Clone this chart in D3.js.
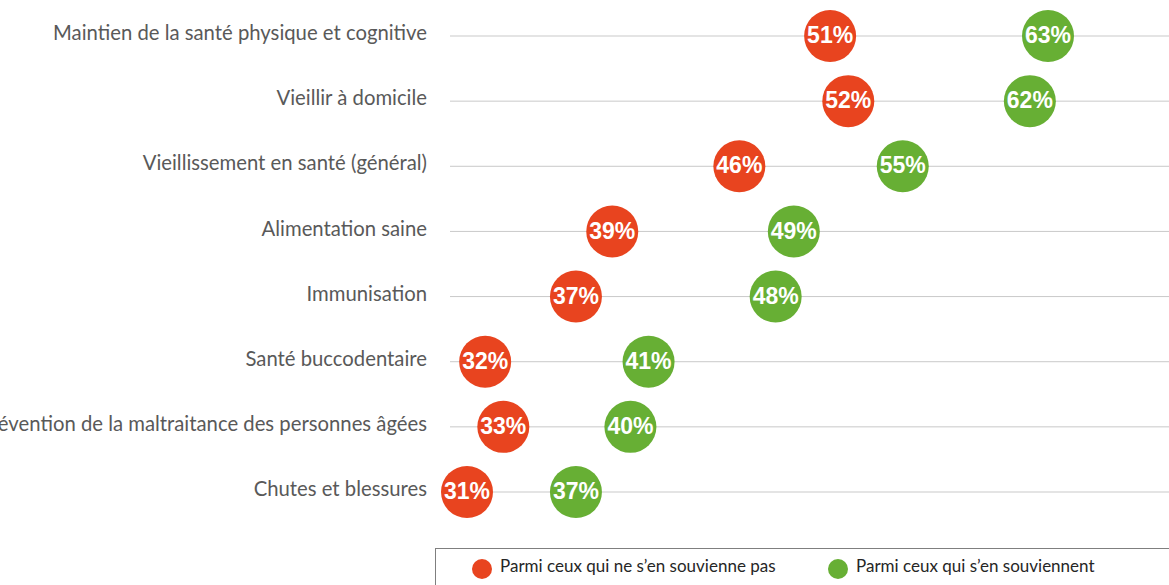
<!DOCTYPE html>
<html><head><meta charset="utf-8">
<script src="https://cdn.jsdelivr.net/npm/d3@7"></script>
<style>body{margin:0;background:#fff;}svg{display:block;}</style>
</head><body>
<svg id="c" width="1169" height="585"></svg>
<script>
const categories = [
  "Maintien de la santé physique et cognitive",
  "Vieillir à domicile",
  "Vieillissement en santé (général)",
  "Alimentation saine",
  "Immunisation",
  "Santé buccodentaire",
  "Prévention de la maltraitance des personnes âgées",
  "Chutes et blessures"
];
const notRemember = [51, 52, 46, 39, 37, 32, 33, 31];
const remember = [63, 62, 55, 49, 48, 41, 40, 37];
const seriesNames = ["Parmi ceux qui ne s’en souvienne pas", "Parmi ceux qui s’en souviennent"];
const colors = ["#E8441F", "#67AF34"];

const svg = d3.select("#c");
const x = d3.scaleLinear().domain([31, 63]).range([467, 1048]);
const y = d3.scalePoint().domain(categories).range([36, 492]);

// gridlines
svg.append("g").selectAll("line").data(categories).join("line")
  .attr("x1", 450).attr("x2", 1169)
  .attr("y1", d => y(d)).attr("y2", d => y(d))
  .attr("stroke", "#c9c9c9").attr("stroke-width", 1);

// labels
svg.append("g").selectAll("text").data(categories).join("text")
  .attr("x", 427).attr("y", d => y(d) - 1)
  .attr("text-anchor", "end").attr("dominant-baseline", "middle")
  .attr("font-family", "Lato, 'Open Sans', sans-serif").attr("font-size", 20.3)
  .attr("fill", "#595959").text(d => d);

function drawSeries(vals, color) {
  const g = svg.append("g");
  const pts = categories.map((c, i) => ({c, v: vals[i]}));
  g.selectAll("circle").data(pts).join("circle")
    .attr("cx", d => x(d.v)).attr("cy", d => y(d.c)).attr("r", 26)
    .attr("fill", color);
  g.selectAll("text").data(pts).join("text")
    .attr("x", d => x(d.v)).attr("y", d => y(d.c) + 1)
    .attr("text-anchor", "middle").attr("dominant-baseline", "middle")
    .attr("font-family", "'Liberation Sans Narrow', 'Liberation Sans', Arial, sans-serif")
    .attr("font-weight", "bold").attr("font-size", 23)
    .attr("fill", "#fff").text(d => d.v + "%");
}
drawSeries(notRemember, colors[0]);
drawSeries(remember, colors[1]);

// legend
svg.append("rect").attr("x", 435.5).attr("y", 548.5).attr("width", 760).attr("height", 60)
  .attr("fill", "none").attr("stroke", "#7f7f7f").attr("stroke-width", 1);
const lx = [482, 838];
const lg = svg.append("g").selectAll("g").data(seriesNames).join("g");
lg.append("circle").attr("cx", (d, i) => lx[i]).attr("cy", 569).attr("r", 10)
  .attr("fill", (d, i) => colors[i]);
lg.append("text").attr("x", (d, i) => lx[i] + 18).attr("y", 568)
  .attr("dominant-baseline", "middle")
  .attr("font-family", "Lato, 'Open Sans', sans-serif").attr("font-size", 17)
  .attr("fill", "#262626").text(d => d);
</script>
</body></html>
